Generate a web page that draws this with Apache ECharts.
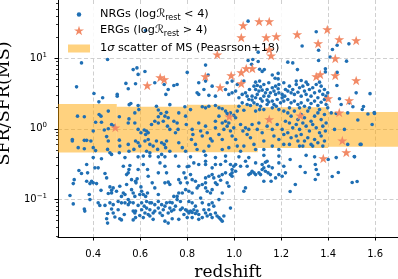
<!DOCTYPE html>
<html><head><meta charset="utf-8">
<script src="https://cdn.jsdelivr.net/npm/echarts@6/dist/echarts.min.js"></script>
<style>html,body{margin:0;padding:0;background:#fff}#c{width:398px;height:279px}</style>
</head><body><div id="c"></div>
<script>
// ---------- data ----------
const xTicks = [0.4, 0.6, 0.8, 1.0, 1.2, 1.4, 1.6];
const yTicks = [0.1, 1, 10];
const yMinorTicks = [0.03,0.04,0.05,0.06,0.07,0.08,0.09,0.2,0.3,0.4,0.5,0.6,0.7,0.8,0.9,2,3,4,5,6,7,8,9,20,30,40,50,60];
const xRange = [0.25, 1.697];
const yRange = [0.0292, 67];

// [redshift, SFR/SFR(MS)]
const nrgPoints = [
[0.623,24.8],[0.35,8.6],[0.461,9.6],[0.57,6.9],[0.586,7.3],[0.62,6.5],[0.591,5.9],
[1.059,33.6],[0.878,8.0],[0.80,6.3],[0.889,5.8],[1.059,9.3],[1.079,9.6],[1.074,8.2],[1.108,7.0],[1.119,6.5],[1.162,5.8],[1.187,5.1],[1.102,12.2],[1.102,9.0],[1.128,6.9],[1.174,5.2],[1.187,6.1],
[1.349,23.8],[1.289,14.9],[1.438,15.3],[1.488,16],[1.359,13],[1.418,13.3],[1.228,8.8],[1.249,8.6],[1.359,9.3],[1.408,10.4],[1.478,9.1],[1.269,6.9],[1.388,7.1],[1.388,6.4],[1.438,6.3],
[0.329,3.93],[0.403,3.16],[0.44,2.75],[0.424,2.41],[0.464,1.78],[0.502,3.07],[0.502,2.9],[0.539,4.4],[0.58,4.35],[0.549,3.69],[0.662,4.49],[0.702,4.25],[0.709,3.07],[0.719,3.61],[0.553,2.2],[0.56,2.28],[0.591,2.13],[0.594,1.87],[0.577,1.68],[0.669,2.09],[0.677,1.85],[0.688,1.65],[0.677,1.48],[0.712,1.71],[0.719,1.43],[0.726,2.2],
[0.333,1.51],[0.362,1.48],[0.425,1.59],[0.433,1.51],[0.41,1.24],[0.435,1.24],[0.511,1.48],[0.552,1.38],[0.549,1.21],[0.478,1.15],[0.489,1.09],[0.464,1.0],[0.447,0.96],[0.40,0.93],[0.577,1.21],[0.591,0.98],[0.603,0.88],[0.617,0.96],[0.627,0.93],[0.623,0.83],[0.634,0.88],[0.648,1.15],[0.662,1.28],[0.677,1.21],[0.698,1.28],[0.705,1.51],[0.716,1.09],[0.726,0.98],
[0.58,0.67],[0.591,0.633],[0.598,0.568],[0.62,0.67],[0.634,0.706],[0.641,0.60],[0.655,0.568],[0.669,0.67],[0.691,0.633],[0.702,0.60],[0.712,0.67],[0.336,0.54],[0.362,0.52],[0.40,0.54],[0.41,0.49],[0.311,0.706],[0.311,0.67],[0.362,0.685],[0.372,0.685],[0.39,0.67],[0.457,0.775],[0.464,0.67],[0.461,0.51],[0.471,0.457],[0.511,0.69],[0.513,0.568],[0.511,0.457],[0.549,0.60],[0.552,0.48],[0.573,0.51],[0.627,0.48],[0.641,0.457],[0.674,0.51],[0.691,0.433],[0.708,0.54],[0.726,0.48],
[0.40,0.39],[0.435,0.375],[0.478,0.433],[0.535,0.39],[0.591,0.40],[0.613,0.41],[0.641,0.41],[0.677,0.40],[0.705,0.40],
[0.743,4.11],[0.757,4.25],[0.849,4.49],[0.878,4.74],[0.906,4.02],[0.97,4.49],[0.991,4.74],[1.013,4.25],[1.041,4.74],[1.084,4.02],[1.098,4.11],[1.112,3.93],[1.126,4.25],[1.147,4.49],[1.162,3.81],[1.176,4.02],[1.19,4.25],[1.211,4.49],[1.218,3.61],[1.091,3.61],[1.105,3.42],[1.119,3.53],[1.14,3.61],[1.154,3.23],[1.169,3.42],[1.19,3.23],[1.204,3.07],[0.871,3.61],[0.849,3.07],[0.842,3.23],[0.892,2.98],[0.92,2.90],[0.963,3.61],[0.977,3.07],[0.991,3.23],[1.006,3.42],[1.02,2.75],[1.034,3.07],[1.048,3.23],[1.062,2.60],[1.076,2.90],[1.091,2.75],[1.112,2.66],[1.126,2.90],[1.14,2.55],[1.162,2.47],[1.183,2.60],[1.197,2.33],[1.211,2.47],[1.055,2.21],[1.069,2.14],[1.084,2.33],[1.098,2.21],[1.112,2.09],[1.034,2.33],[1.02,2.09],[1.013,1.78],[1.041,1.83],[1.091,1.78],[1.126,1.87],[1.162,1.98],[1.19,1.87],[1.211,1.78],
[1.091,4.58],[1.108,4.74],[1.133,3.23],[1.147,2.90],[1.176,3.07],[1.187,3.69],[1.204,2.75],[1.215,2.90],[1.098,3.07],[1.119,2.47],[1.14,2.21],[1.169,2.21],[1.076,2.55],[1.065,3.61],[1.055,2.90],[1.147,2.40],[1.179,2.09],[1.108,1.87],
[0.764,1.68],[0.79,2.05],[0.814,1.87],[0.864,2.05],[0.878,1.98],[0.892,2.09],[0.92,2.14],[0.935,1.98],[0.949,1.92],[0.963,1.78],[0.97,1.65],[0.984,1.68],[0.998,1.55],[1.006,1.43],[0.935,1.51],[0.92,1.28],[0.949,1.21],[0.963,1.28],[0.977,1.55],
[0.743,1.28],[0.757,1.21],[0.761,0.98],[0.75,0.88],[0.793,1.51],[0.796,1.15],[0.821,0.98],[0.824,0.83],[0.818,0.706],[0.849,1.21],[0.857,0.93],[0.864,0.79],[0.878,1.09],[0.885,0.88],[0.899,0.72],[0.906,0.67],[0.892,0.568],[0.92,1.03],[0.935,0.83],[0.949,0.706],[0.956,0.98],[0.97,1.09],[0.977,1.21],[0.984,0.93],[0.991,0.79],[0.998,1.03],[1.006,0.706],[1.013,0.568],[1.027,1.15],[1.037,0.93],[1.048,1.03],[1.055,0.83],[1.062,0.98],[1.069,0.745],[1.076,1.15],[1.084,0.60],[1.098,0.98],[1.105,1.21],[1.119,0.88],[1.126,0.67],[1.14,1.09],[1.147,1.35],[1.162,0.98],[1.169,0.79],[1.183,1.15],[1.19,0.706],[1.204,0.98],[1.211,0.83],[1.218,1.28],
[0.764,0.633],[0.779,0.54],[0.793,0.48],[0.835,0.60],[0.842,0.509],[0.871,0.48],[0.949,0.509],[0.977,0.54],[1.027,0.48],[1.041,0.568],[1.091,0.509],[1.126,0.509],[1.162,0.568],[1.19,0.509],[1.211,0.60],
[0.75,0.41],[0.814,0.40],[0.878,0.42],[0.92,0.39],[0.963,0.41],[1.02,0.40],[1.062,0.39],[1.126,0.42],[1.19,0.41],
[1.228,3.42],[1.235,4.02],[1.242,3.23],[1.249,3.61],[1.256,3.07],[1.264,4.25],[1.271,3.30],[1.278,3.81],[1.285,2.90],[1.292,4.02],[1.299,3.42],[1.306,3.07],[1.313,4.25],[1.32,3.61],[1.327,2.90],[1.334,3.81],[1.342,3.23],[1.349,4.25],[1.356,2.75],[1.363,3.42],[1.37,4.02],[1.377,3.07],[1.384,3.61],[1.391,2.90],[1.398,3.23],
[1.228,2.60],[1.242,2.33],[1.256,2.47],[1.271,2.21],[1.285,2.33],[1.299,2.09],[1.313,2.55],[1.327,2.28],[1.342,2.47],[1.356,2.14],[1.37,2.38],[1.384,2.60],[1.391,2.21],[1.235,1.98],[1.278,1.98],[1.32,1.98],[1.363,1.87],[1.398,1.98],[1.264,4.74],[1.285,4.84],[1.306,4.58],[1.363,4.58],
[1.437,4.11],[1.519,3.23],[1.578,3.15],[1.448,2.66],[1.455,2.21],[1.49,2.33],[1.505,2.05],[1.413,1.68],[1.434,1.65],[1.483,1.68],[1.569,1.62],[1.597,1.65],[1.526,1.33],[1.587,1.15],[1.427,0.98],[1.469,0.98],[1.54,0.60],[1.483,0.60],[1.434,0.39],[1.512,0.40],[1.342,0.40],[1.306,0.42],[1.278,0.568],[1.596,1.70],[1.545,1.88],[1.55,2.07],
[1.228,1.68],[1.242,1.51],[1.256,1.78],[1.271,1.35],[1.285,1.59],[1.299,1.43],[1.313,1.78],[1.327,1.28],[1.342,1.51],[1.356,1.68],[1.37,1.35],[1.384,1.59],[1.391,1.21],[1.235,1.21],[1.249,1.03],[1.264,1.15],[1.278,0.98],[1.292,1.21],[1.306,1.09],[1.32,0.93],[1.334,1.15],[1.349,1.03],[1.363,0.88],[1.377,1.09],[1.388,0.93],
[1.228,0.88],[1.242,0.745],[1.264,0.79],[1.285,0.83],[1.299,0.67],[1.313,0.745],[1.327,0.60],[1.342,0.706],[1.356,0.633],[1.37,0.79],[1.384,0.67],[1.271,0.67],[1.235,0.60],[1.292,0.568],[1.334,0.568],[1.377,0.568],
[0.301,0.113],[0.315,0.167],[0.319,0.190],[0.339,0.256],[0.35,0.232],[0.372,0.311],[0.376,0.237],[0.372,0.180],[0.386,0.167],[0.393,0.180],[0.383,0.117],[0.386,0.099],[0.315,0.086],[0.362,0.073],[0.364,0.068],[0.407,0.279],[0.421,0.279],[0.40,0.171],[0.414,0.167],[0.433,0.134],[0.45,0.232],[0.457,0.201],[0.471,0.150],[0.478,0.134],[0.478,0.123],[0.485,0.145],[0.499,0.130],[0.464,0.121],[0.513,0.153],[0.52,0.110],[0.528,0.123],[0.535,0.117],[0.542,0.224],[0.549,0.237],[0.556,0.301],[0.552,0.264],[0.542,0.162],[0.528,0.294],[0.563,0.190],[0.58,0.180],[0.582,0.171],[0.591,0.264],[0.57,0.123],[0.577,0.110],[0.598,0.117],[0.606,0.130],[0.613,0.117],[0.623,0.110],[0.631,0.123],[0.641,0.089],[0.651,0.171],[0.662,0.145],[0.677,0.117],[0.705,0.171],[0.719,0.175],[0.726,0.162],[0.705,0.294],[0.712,0.237],[0.677,0.237],[0.684,0.328],[0.613,0.311],[0.631,0.264],[0.634,0.212],[0.603,0.150],[0.587,0.195],[0.563,0.137],
[0.549,0.099],[0.52,0.089],[0.506,0.093],[0.485,0.084],[0.471,0.089],[0.45,0.082],[0.428,0.082],[0.421,0.089],[0.506,0.071],[0.478,0.073],[0.485,0.064],[0.461,0.063],[0.457,0.053],[0.492,0.056],[0.513,0.053],[0.52,0.051],[0.532,0.061],[0.535,0.089],[0.549,0.084],[0.556,0.091],[0.57,0.089],[0.57,0.068],[0.58,0.068],[0.591,0.082],[0.606,0.089],[0.617,0.080],[0.627,0.075],[0.641,0.071],[0.634,0.061],[0.62,0.064],[0.648,0.089],[0.662,0.068],[0.677,0.075],[0.684,0.064],[0.698,0.071],[0.705,0.080],[0.712,0.089],[0.719,0.064],[0.726,0.075],[0.733,0.068],[0.705,0.049],[0.719,0.046],[0.57,0.051],[0.58,0.055],[0.641,0.058],[0.655,0.052],[0.461,0.046],[0.577,0.064],[0.598,0.059],[0.613,0.055],[0.662,0.084],[0.691,0.084],[0.677,0.093],[0.726,0.091],[0.606,0.071],[0.655,0.064],[0.694,0.059],[0.627,0.093],
[0.764,0.294],[0.80,0.290],[0.807,0.294],[0.828,0.328],[0.849,0.311],[0.878,0.311],[0.878,0.347],[0.906,0.279],[0.92,0.311],[0.942,0.311],[0.963,0.347],[0.984,0.311],[0.998,0.294],[1.006,0.311],[1.027,0.294],[1.048,0.347],[1.055,0.294],[1.091,0.328],[1.119,0.311],[1.126,0.279],[1.133,0.335],[1.14,0.347],[1.147,0.294],[1.162,0.279],[1.19,0.328],[1.211,0.294],[1.218,0.237],[1.19,0.224],[1.204,0.212],[1.176,0.201],[1.157,0.180],[1.126,0.180],[1.119,0.264],[1.133,0.250],[1.144,0.237],[1.154,0.224],[1.076,0.250],[1.069,0.232],[1.084,0.237],[1.105,0.237],[1.112,0.224],[1.091,0.224],[1.062,0.224],
[0.991,0.264],[0.984,0.224],[0.991,0.237],[1.006,0.250],[0.991,0.212],[0.963,0.237],[0.949,0.224],[0.935,0.212],[0.942,0.186],[0.92,0.171],[0.913,0.201],[0.906,0.224],[0.892,0.212],[0.878,0.201],[0.878,0.171],[0.864,0.162],[0.849,0.156],[0.835,0.180],[0.821,0.190],[0.814,0.224],[0.793,0.201],[0.786,0.237],[0.764,0.190],[0.771,0.171],[0.80,0.171],[0.793,0.137],[0.807,0.130],[0.764,0.123],[0.757,0.110],[0.779,0.123],[0.821,0.123],[0.842,0.145],[0.878,0.145],[0.885,0.130],[0.899,0.123],[0.906,0.137],[0.927,0.162],[0.949,0.123],[0.97,0.171],[0.977,0.153],[1.041,0.130],[1.048,0.145],[0.984,0.075],
[0.736,0.089],[0.75,0.080],[0.743,0.071],[0.771,0.071],[0.779,0.075],[0.793,0.071],[0.80,0.068],[0.807,0.064],[0.814,0.068],[0.821,0.065],[0.828,0.071],[0.835,0.063],[0.842,0.068],[0.849,0.061],[0.786,0.061],[0.80,0.055],[0.764,0.052],[0.736,0.053],[0.821,0.055],[0.849,0.052],[0.864,0.055],[0.871,0.071],[0.878,0.064],[0.885,0.058],[0.892,0.071],[0.899,0.061],[0.906,0.055],[0.913,0.080],[0.92,0.064],[0.927,0.058],[0.935,0.055],[0.942,0.052],[0.949,0.049],[0.956,0.058],[0.857,0.104],[0.906,0.089],[0.892,0.084],[0.935,0.099],[0.821,0.089],[0.835,0.080],[0.864,0.089],[0.807,0.093],[0.771,0.093],[0.757,0.099],[0.743,0.110],
[1.281,0.292],[1.302,0.240],[1.345,0.312],[1.349,0.265],[1.357,0.225],[1.345,0.191],[1.417,0.211],[1.443,0.240],[1.502,0.173],[1.523,0.179],[1.511,0.405],[1.536,0.60],[1.40,0.367],[1.238,0.367],[1.26,0.162],[1.238,0.129]
];

const ergPoints = [
[0.494,1.04],[0.630,4.11],[0.685,5.34],[0.702,5.0],[0.877,5.52],[0.928,11.3],[0.940,3.85],[0.979,1.49],[0.987,5.70],[1.030,19.7],[1.030,6.29],[1.030,4.39],[1.038,29.2],[1.051,7.17],[1.077,7.17],[1.106,33.3],[1.149,33.3],[1.136,19.7],[1.179,20.4],[1.149,13.3],[1.157,10.9],[1.149,1.36],[1.268,21.8],[1.281,1.54],[1.349,5.52],[1.366,5.89],[1.357,16.2],[1.396,25.6],[1.400,2.69],[1.430,9.93],[1.430,5.70],[1.447,18.5],[1.447,1.70],[1.460,0.68],[1.477,0.461],[1.379,0.379],[1.489,2.52],[1.519,17.9],[1.519,4.84]
];

// main-sequence 1-sigma band bins: [z from, z to, lower, upper]
const msBand = [
[0.25,0.50,0.46,2.25],
[0.50,0.80,0.46,2.05],
[0.80,1.10,0.465,2.19],
[1.10,1.40,0.535,2.02],
[1.40,1.70,0.555,1.73]
];

const legendLabels = {
  nrg: 'NRGs (log{i|ℛ}{sub|rest} < 4)',
  erg: 'ERGs (log{i|ℛ}{sub|rest} > 4)',
  ms: '1{i|σ} scatter of MS (Peasrson+18)'
};

// ---------- chart ----------
const STAR = 'path://M50,0 L61.23,34.55 L97.55,34.55 L68.16,55.9 L79.39,90.45 L50,69.1 L20.61,90.45 L31.84,55.9 L2.45,34.55 L38.77,34.55 Z';
const BLUE = '#1f6fb4', STARC = '#f28a66', BAND = 'rgba(255,165,0,0.5)';
const legendText = padLeft => ({
  fontFamily: 'DejaVu Sans', fontSize: 11.3, color: '#000', padding: [0,0,0,padLeft],
  rich: {
    i: {fontFamily: 'DejaVu Sans', fontSize: 11.3, fontStyle: 'italic', color: '#000'},
    sub: {fontFamily: 'DejaVu Sans', fontSize: 8, color: '#000', padding: [6,0,0,0]}
  }
});
const supLabel = v => {
  const e = Math.round(Math.log10(v));
  return '{b|10}{s|' + (e < 0 ? '\u2212' + (-e) : e) + '}';
};

const chart = echarts.init(document.getElementById('c'), null, {renderer: 'canvas'});
chart.setOption({
  animation: false,
  backgroundColor: '#fff',
  grid: {left: 58, right: 0, top: 0, bottom: 42, outerBoundsMode: 'none'},
  xAxis: {
    type: 'value', min: xRange[0], max: xRange[1],
    axisLine: {show: true, onZero: false, lineStyle: {color: '#000', width: 1}},
    axisTick: {show: true, customValues: xTicks, length: 3.5, lineStyle: {color: '#000', width: 1}},
    axisLabel: {customValues: xTicks, formatter: v => v.toFixed(1), color: '#000', fontFamily: 'DejaVu Sans', fontSize: 10, margin: 12},
    splitLine: {show: true, lineStyle: {type: [4, 2.5], color: '#cfcfcf', width: 1}},
    name: 'redshift', nameLocation: 'middle', nameGap: 23,
    nameTextStyle: {fontFamily: 'DejaVu Serif', fontSize: 17, color: '#000'}
  },
  yAxis: [{
    type: 'log', logBase: 10, min: yRange[0], max: yRange[1],
    axisLine: {show: true, onZero: false, lineStyle: {color: '#000', width: 1}},
    axisTick: {show: true, customValues: yTicks, length: 3.5, lineStyle: {color: '#000', width: 1}},
    axisLabel: {customValues: yTicks, formatter: supLabel, color: '#000', margin: 11,
      rich: {b: {fontFamily: 'DejaVu Sans', fontSize: 10, color: '#000'},
             s: {fontFamily: 'DejaVu Sans', fontSize: 7, color: '#000', padding: [0,0,7,0]}}},
    splitLine: {show: true, lineStyle: {type: [4, 2.5], color: '#cfcfcf', width: 1}},
    minorTick: {show: false},
    name: 'SFR/SFR(MS)', nameLocation: 'middle', nameGap: 41,
    nameTextStyle: {fontFamily: 'DejaVu Serif', fontSize: 17.5, color: '#000', padding: [0, 0, 0, 30]}
  }, {
    type: 'log', logBase: 10, min: yRange[0], max: yRange[1], position: 'left',
    axisLine: {show: false},
    axisTick: {show: true, customValues: yMinorTicks, length: 2, lineStyle: {color: '#000', width: 0.8}},
    axisLabel: {show: false},
    splitLine: {show: false}
  }],
  graphic: [{
    type: 'rect', z: 1, silent: true,
    shape: {x: 62, y: 5, width: 224, height: 51, r: 3},
    style: {fill: 'rgba(255,255,255,0.85)'}
  }],
  legend: [
    {data: [{name: 'NRGs', icon: 'circle'}], left: 76.75, top: 9, padding: 0, itemWidth: 4.5, itemHeight: 4.5,
     selectedMode: false, formatter: () => legendLabels.nrg, textStyle: legendText(13.75)},
    {data: [{name: 'ERGs', icon: STAR}], left: 74, top: 25, padding: 0, itemWidth: 10, itemHeight: 10,
     selectedMode: false, formatter: () => legendLabels.erg, textStyle: legendText(11)},
    {data: [{name: 'MS', icon: 'rect'}], left: 68, top: 43, padding: 0, itemWidth: 22, itemHeight: 8,
     selectedMode: false, formatter: () => legendLabels.ms, textStyle: legendText(5)}
  ],
  series: [{
    name: 'MS', type: 'custom', z: 1,
    itemStyle: {color: BAND},
    encode: {x: [0, 1], y: [2, 3]},
    data: msBand,
    renderItem: (params, api) => {
      const p0 = api.coord([api.value(0), api.value(3)]);
      const p1 = api.coord([api.value(1), api.value(2)]);
      const shape = echarts.graphic.clipRectByRect(
        {x: p0[0], y: p0[1], width: p1[0] - p0[0], height: p1[1] - p0[1]},
        {x: params.coordSys.x, y: params.coordSys.y, width: params.coordSys.width, height: params.coordSys.height});
      return shape && {type: 'rect', shape: shape, style: {fill: BAND}};
    }
  }, {
    name: 'NRGs', type: 'scatter', z: 3, symbol: 'circle', symbolSize: 3.6,
    itemStyle: {color: BLUE, opacity: 1},
    data: nrgPoints
  }, {
    name: 'ERGs', type: 'scatter', z: 4, symbol: STAR, symbolKeepAspect: true, symbolSize: 10,
    itemStyle: {color: STARC, opacity: 1},
    data: ergPoints
  }]
});
</script>
</body></html>
